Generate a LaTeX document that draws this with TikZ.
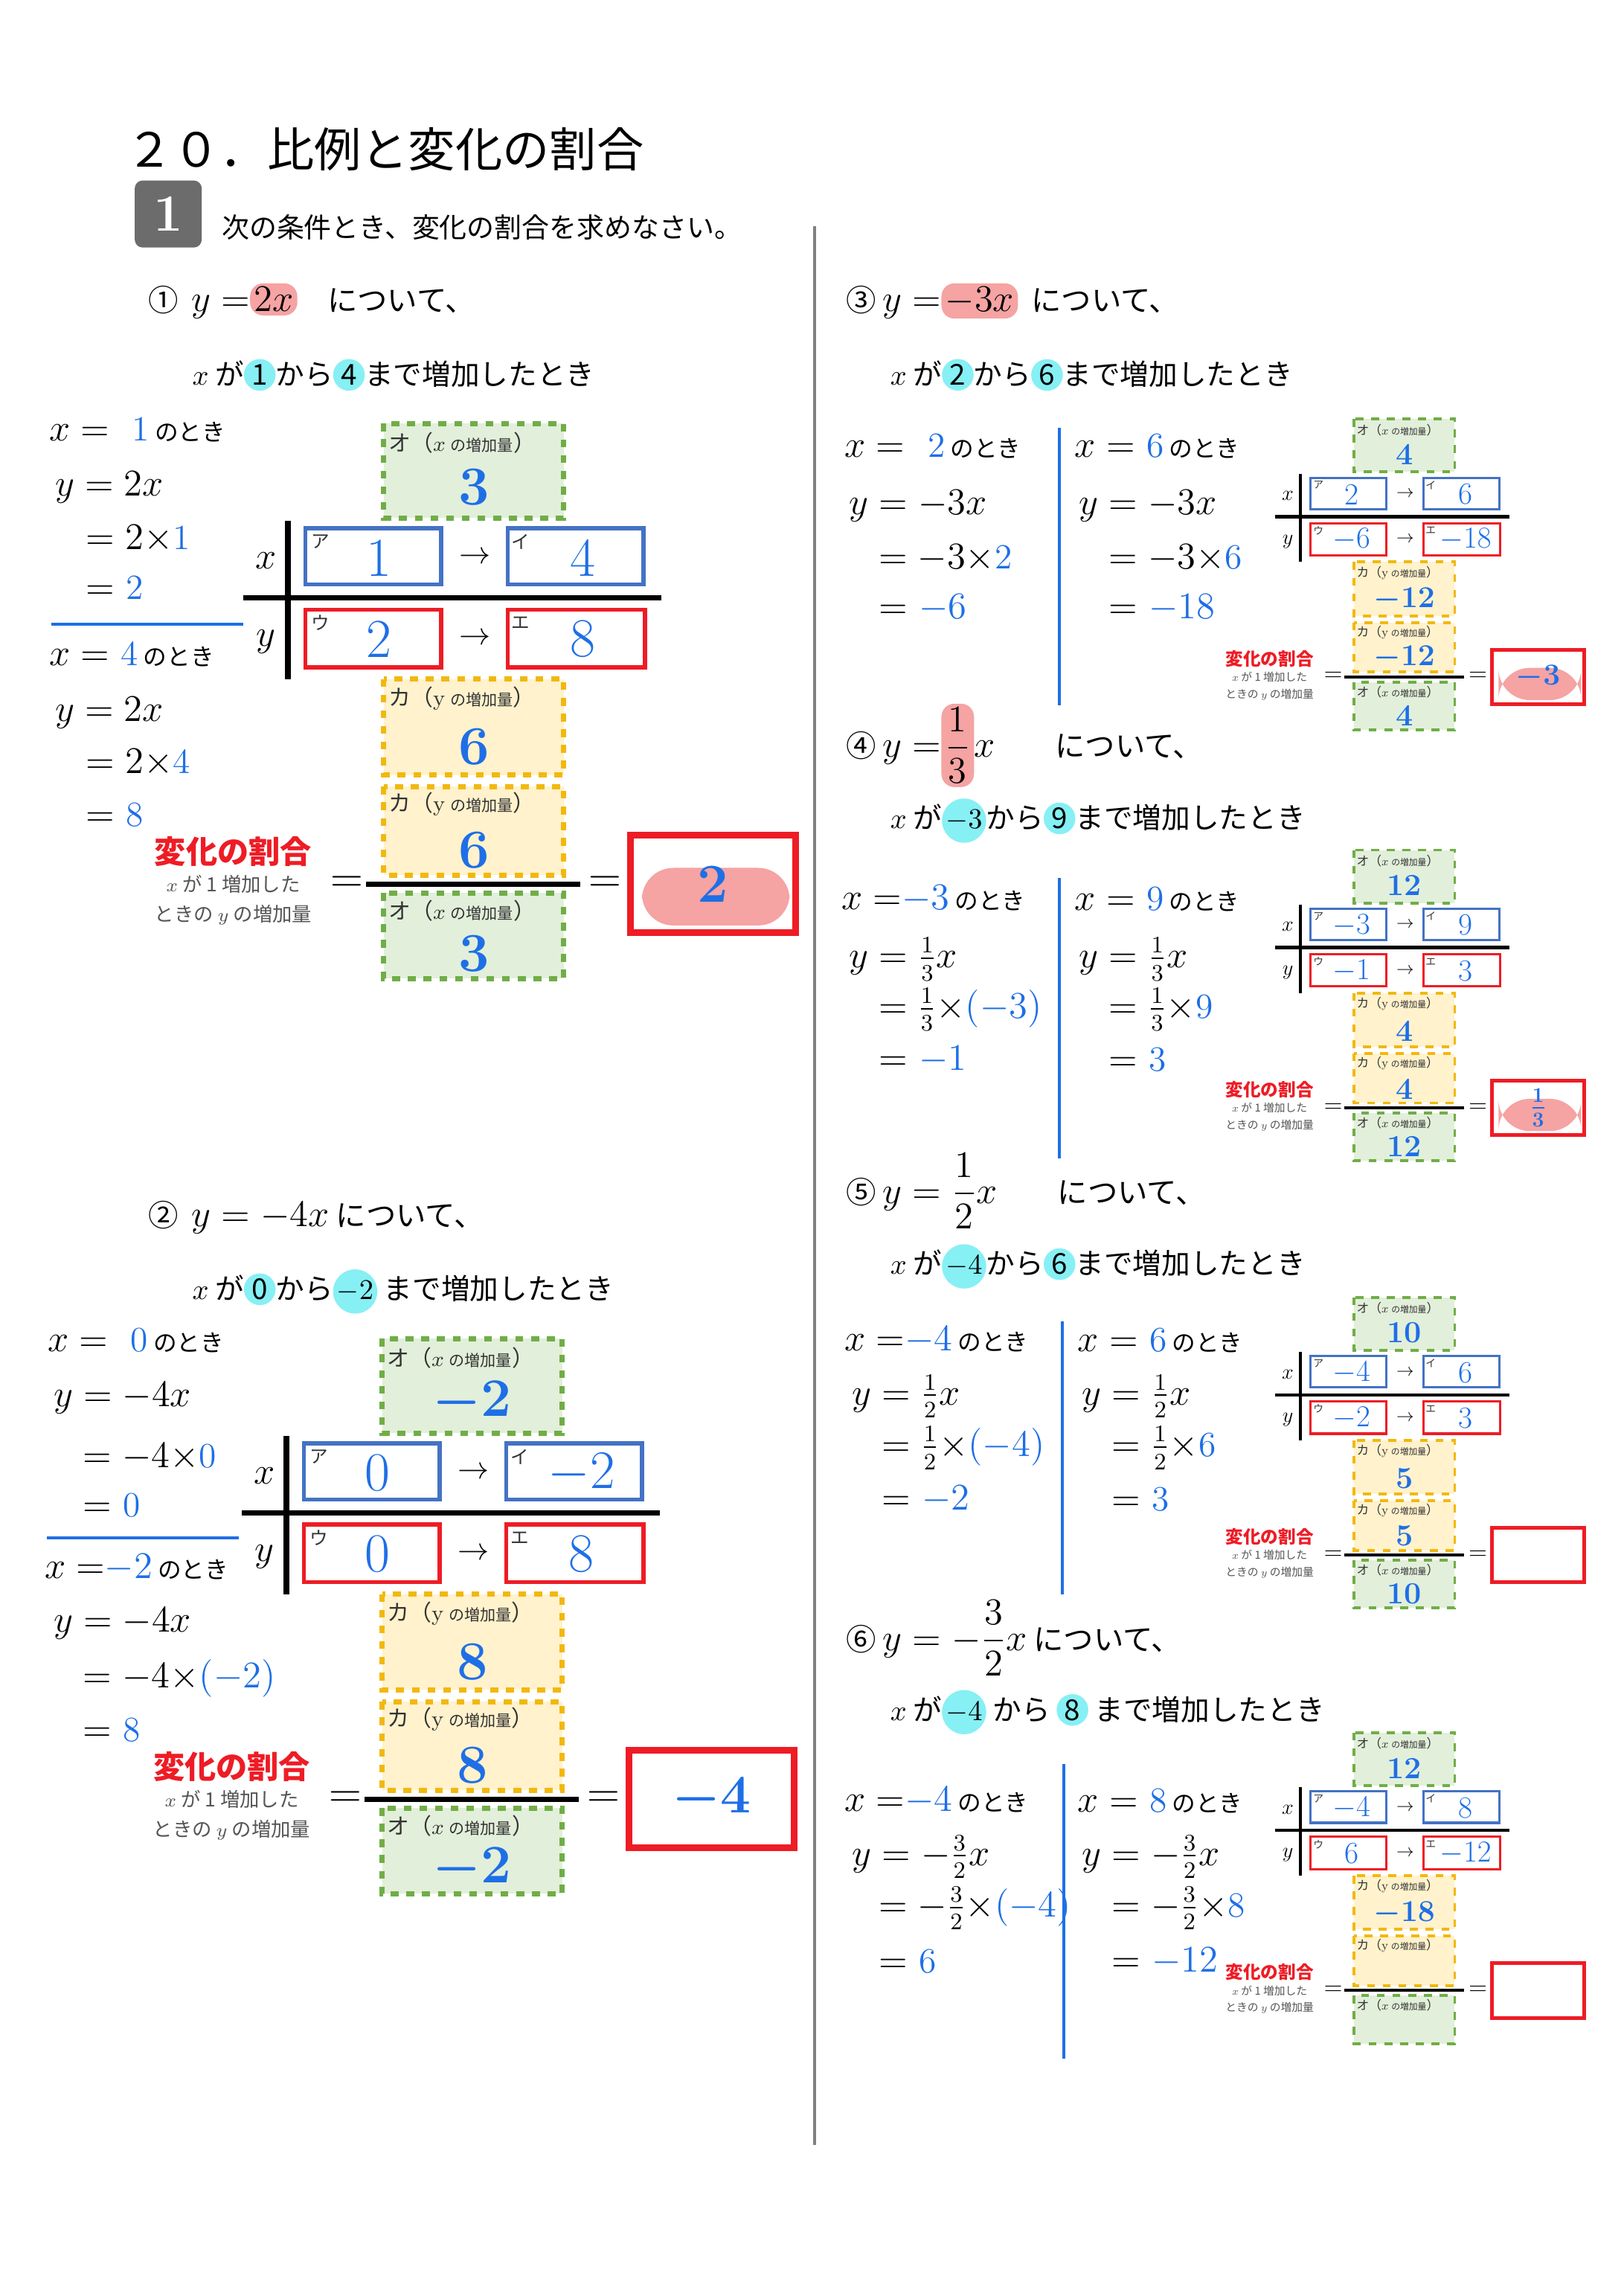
\documentclass[tikz,border=0pt]{standalone}
\usepackage{fontspec}
\usepackage{amsmath}
\newfontfamily\jp{Noto Sans CJK JP}
\definecolor{hb}{HTML}{1E6FE6}
\definecolor{bb}{HTML}{4472C4}
\definecolor{rr}{HTML}{EE1C25}
\definecolor{gf}{HTML}{E2EFDA}
\definecolor{gd}{HTML}{70AD47}
\definecolor{yf}{HTML}{FFF2CC}
\definecolor{yd}{HTML}{F2B80F}
\definecolor{pk}{HTML}{F5A3A3}
\definecolor{cy}{HTML}{86F0F5}
\definecolor{gl}{HTML}{555555}
\newcommand\cyc[1]{\tikz[baseline=(c.base)]\node[fill=cy,circle,inner sep=0.3pt,minimum size=1.1em](c){#1};}
\newcommand\pkh[1]{\tikz[baseline=(c.base)]\node[fill=pk,rounded corners=5pt,inner sep=1.5pt,font=\fontsize{15}{15}\selectfont](c){#1};}
\newcommand\hw{\fontsize{13.5}{13.5}\selectfont}
\newcommand\mf{\fontsize{15}{15}\selectfont}
\newcommand\nt{{\jp\fontsize{9}{9}\selectfont\ のとき}}
\newcommand\B[1]{\textcolor{hb}{#1}}
\newif\iffv \fvtrue
\newif\ifhl
\newcommand\panel[9]{%
\begin{scope}[shift={#1},scale=#2,transform shape]
 \draw[line width={2.2pt*#2}] (0,-52)--(0,55);
 \draw[line width={2.2pt*#2}] (-30,0)--(253,0);
 \node (px) at (-15,-25) {\fontsize{15}{15}\selectfont$x$};
 \node (py) at (-15,30) {\fontsize{15}{15}\selectfont$y$};
 \draw[bb,line width={1.6pt*#2}] (12,-47) rectangle (104,-9);
 \draw[bb,line width={1.6pt*#2}] (149,-47) rectangle (241,-9);
 \draw[rr,line width={1.6pt*#2}] (12,8) rectangle (104,47);
 \draw[rr,line width={1.6pt*#2}] (149,8) rectangle (242,47);
 \node[kana] (ka) at (22,-38) {ア}; \node[kana] (ki) at (158,-38) {イ};
 \node[kana] (ku) at (22,17) {ウ}; \node[kana] (ke) at (158,17) {エ};
 \node[hv] (va) at (62,-27) {#3}; \node[hv] (vi) at (200,-27) {#4};
 \node[hv] (vu) at (62,28) {#5}; \node[hv] (ve) at (200,28) {#6};
 \node (ar1) at (127,-27) {\fontsize{13}{13}\selectfont$\rightarrow$};
 \node (ar2) at (127,28) {\fontsize{13}{13}\selectfont$\rightarrow$};
 \draw[gob,line width={2pt*#2}] (65,-118) rectangle (187,-54);
 \node[lab] (lo1) at (68,-105) {オ（$x$ {\fontsize{6}{6}\selectfont の増加量}）};
 \node[bv] (vo) at (126,-75) {#7};
 \draw[yeb,line width={2pt*#2}] (65,55) rectangle (187,120);
 \node[lab] (lk1) at (68,68) {カ（$\mathrm{y}$ {\fontsize{6}{6}\selectfont の増加量}）};
 \node[bv] (vk) at (126,101) {#8};
 \draw[yeb,line width={2pt*#2}] (65,128) rectangle (187,188);
 \node[lab] (lk2) at (68,140) {カ（$\mathrm{y}$ {\fontsize{6}{6}\selectfont の増加量}）};
 \draw[line width={2pt*#2}] (53,194)--(198,194);
 \draw[gob,line width={2pt*#2}] (65,200) rectangle (187,258);
 \node[lab] (lo2) at (68,212) {オ（$x$ {\fontsize{6}{6}\selectfont の増加量}）};
 \iffv \node[bv] (fk) at (126,171) {#8}; \node[bv] (fo) at (126,241) {#7}; \fi
 \node (e1) at (40,194) {\fontsize{17}{17}\selectfont$=$};
 \node (e2) at (215,194) {\fontsize{17}{17}\selectfont$=$};
 \ifhl \fill[pk,rounded corners=12pt] (240,183) rectangle (340,222); \fi
 \draw[rr,line width={2.6pt*#2}] (232,161) rectangle (344,227);
 \node[bv] (ans) at (288,194) {#9};
 \node[text=rr,font=\jp\bfseries\fontsize{12}{12}\selectfont] (hk) at (-37,172) {変化の割合};
 \node[text=gl,font=\jp\fontsize{7.5}{7.5}\selectfont] (h1) at (-37,194) {$x$ が 1 増加した};
 \node[text=gl,font=\jp\fontsize{7.5}{7.5}\selectfont] (h2) at (-37,215) {ときの $y$ の増加量};
\end{scope}}
\begin{document}
\begin{tikzpicture}[x=0.01984cm,y=-0.01984cm,
  kana/.style={font=\jp\fontsize{7}{7}\selectfont,inner sep=0pt,text=black!80},
  hv/.style={text=hb,font=\fontsize{21}{21}\selectfont,inner sep=0pt},
  bv/.style={text=hb,font=\bfseries\boldmath\fontsize{21}{21}\selectfont,inner sep=0pt},
  lab/.style={anchor=west,font=\jp\fontsize{8.5}{8.5}\selectfont,inner sep=0pt,text=black!80},
  gob/.style={draw=gd,fill=gf,dashed},
  yeb/.style={draw=yd,fill=yf,dashed},
  hwl/.style={anchor=west,inner sep=0pt,font=\hw},
  head/.style={anchor=west,inner sep=0pt,font=\jp\fontsize{11.5}{11.5}\selectfont},
  sub/.style={anchor=west,inner sep=0pt,font=\jp\fontsize{11}{11}\selectfont}]
\useasboundingbox (0,0) rectangle (1100,1555.6);
\fill[white] (0,0) rectangle (1100,1555.6);
% header
\node[anchor=west,inner sep=0pt,font=\jp\fontsize{18}{18}\selectfont] (title) at (85,101) {２０．比例と変化の割合};
\node[fill=gray!85!black,rounded corners=3pt,text=white,font=\bfseries\fontsize{20}{20}\selectfont,minimum width=0.9cm,minimum height=0.9cm] (one) at (114,145) {1};
\node[anchor=west,inner sep=0pt,font=\jp\fontsize{10.5}{10.5}\selectfont] (inst) at (150,154) {次の条件とき、変化の割合を求めなさい。};
\draw[gray,line width=1pt] (552,153) -- (552,1453);
% ---------- (1)
\node[head] (q1) at (100,204) {①\ \ {\mf$y=$}\pkh{$2x$}\quad について、};
\node[sub] (c1) at (130,254) {$x$ が\cyc{1}から\cyc{4}まで増加したとき};
\node[hwl] (a1) at (33,291) {$x=$\ \ \B{1}\nt};
\node[hwl] (a2) at (37,330) {$y=2x$};
\node[hwl] (a3) at (58,365) {$=2\times$\B{1}};
\node[hwl] (a4) at (58,398) {$=$\ \B{2}};
\draw[hb,line width=1.2pt] (35,423) -- (165,423);
\node[hwl] (a5) at (33,443) {$x=$\ \B{4}\nt};
\node[hwl] (a6) at (37,483) {$y=2x$};
\node[hwl] (a7) at (58,517) {$=2\times$\B{4}};
\node[hwl] (a8) at (58,552) {$=$\ \B{8}};
\hltrue
\panel{(195,405)}{1}{1}{4}{2}{8}{3}{6}{2}
% ---------- (2)
\node[head] (q2) at (100,825) {②\ \ {\mf$y=-4x$}\ について、};
\node[sub] (c2) at (130,875) {$x$ が\cyc{0}から\cyc{$-2$}\ まで増加したとき};
\node[hwl] (b1) at (32,908) {$x=$\ \ \B{0}\nt};
\node[hwl] (b2) at (36,947) {$y=-4x$};
\node[hwl] (b3) at (56,987) {$=-4\times$\B{0}};
\node[hwl] (b4) at (56,1020) {$=$\ \B{0}};
\draw[hb,line width=1.2pt] (32,1042) -- (162,1042);
\node[hwl] (b5) at (30,1062) {$x=$\B{$-2$}\nt};
\node[hwl] (b6) at (36,1100) {$y=-4x$};
\node[hwl] (b7) at (56,1137) {$=-4\times$\B{$(-2)$}};
\node[hwl] (b8) at (56,1172) {$=$\ \B{8}};
\hlfalse
\panel{(194,1025)}{1}{0}{$-2$}{0}{8}{$-2$}{8}{$-4$}
% ---------- (3)
\node[head] (q3) at (573,204) {③\ {\mf$y=$}\pkh{$-3x$}\ \ について、};
\node[sub] (c3) at (603,254) {$x$ が\cyc{2}から\cyc{6}まで増加したとき};
\draw[hb,line width=1.2pt] (718,290) -- (718,478);
\node[hwl] (r1) at (572,302) {$x=$\ \ \B{2}\nt};
\node[hwl] (r2) at (575,343) {$y=-3x$};
\node[hwl] (r3) at (595,378) {$=-3\times$\B{2}};
\node[hwl] (r4) at (595,412) {$=$\ \B{$-6$}};
\node[hwl] (s1) at (728,302) {$x=$\ \B{6}\nt};
\node[hwl] (s2) at (731,343) {$y=-3x$};
\node[hwl] (s3) at (751,378) {$=-3\times$\B{6}};
\node[hwl] (s4) at (751,412) {$=$\ \B{$-18$}};
\hltrue
\panel{(881,350)}{0.56}{2}{6}{$-6$}{$-18$}{4}{$-12$}{$-3$}
% ---------- (4)
\node[head] (q4) at (573,505) {④\ {\mf$y=$}\pkh{$\dfrac{1}{3}$}{\mf$x$}\qquad について、};
\node[sub] (c4) at (603,556) {$x$ が\cyc{$-3$}から\cyc{9}まで増加したとき};
\draw[hb,line width=1.2pt] (718,595) -- (718,785);
\node[hwl] (r5) at (570,609) {$x=$\B{$-3$}\nt};
\node[hwl] (r6) at (575,650) {$y=\frac13x$};
\node[hwl] (r7) at (595,684) {$=\frac13\times$\B{$(-3)$}};
\node[hwl] (r8) at (595,718) {$=$\ \B{$-1$}};
\node[hwl] (s5) at (728,609) {$x=$\ \B{9}\nt};
\node[hwl] (s6) at (731,650) {$y=\frac13x$};
\node[hwl] (s7) at (751,684) {$=\frac13\times$\B{9}};
\node[hwl] (s8) at (751,718) {$=$\ \B{3}};
\panel{(881,642)}{0.56}{$-3$}{9}{$-1$}{3}{12}{4}{$\frac{1}{3}$}
% ---------- (5)
\node[head] (q5) at (573,807) {⑤\ {\mf$y=\dfrac{1}{2}x$}\qquad について、};
\node[sub] (c5) at (603,858) {$x$ が\cyc{$-4$}から\cyc{6}まで増加したとき};
\draw[hb,line width=1.2pt] (720,895) -- (720,1080);
\node[hwl] (r9) at (572,908) {$x=$\B{$-4$}\nt};
\node[hwl] (r10) at (577,946) {$y=\frac12x$};
\node[hwl] (r11) at (597,981) {$=\frac12\times$\B{$(-4)$}};
\node[hwl] (r12) at (597,1016) {$=$\ \B{$-2$}};
\node[hwl] (s9) at (730,908) {$x=$\ \B{6}\nt};
\node[hwl] (s10) at (733,946) {$y=\frac12x$};
\node[hwl] (s11) at (753,981) {$=\frac12\times$\B{6}};
\node[hwl] (s12) at (753,1016) {$=$\ \B{3}};
\hlfalse
\panel{(881,945)}{0.56}{$-4$}{6}{$-2$}{3}{10}{5}{}
% ---------- (6)
\node[head] (q6) at (573,1110) {⑥\ {\mf$y=-\dfrac{3}{2}x$}\ について、};
\node[sub] (c6) at (603,1160) {$x$ が\cyc{$-4$}\ から\ \cyc{8}\ まで増加したとき};
\draw[hb,line width=1.2pt] (721,1195) -- (721,1395);
\node[hwl] (r13) at (572,1220) {$x=$\B{$-4$}\nt};
\node[hwl] (r14) at (577,1258) {$y=-\frac32x$};
\node[hwl] (r15) at (595,1293) {$=-\frac32\times$\B{$(-4)$}};
\node[hwl] (r16) at (595,1329) {$=$\ \B{6}};
\node[hwl] (s13) at (730,1220) {$x=$\ \B{8}\nt};
\node[hwl] (s14) at (733,1258) {$y=-\frac32x$};
\node[hwl] (s15) at (753,1293) {$=-\frac32\times$\B{8}};
\node[hwl] (s16) at (753,1329) {$=$\ \B{$-12$}};
\fvfalse
\panel{(881,1240)}{0.56}{$-4$}{8}{6}{$-12$}{12}{$-18$}{}
\end{tikzpicture}
\end{document}
